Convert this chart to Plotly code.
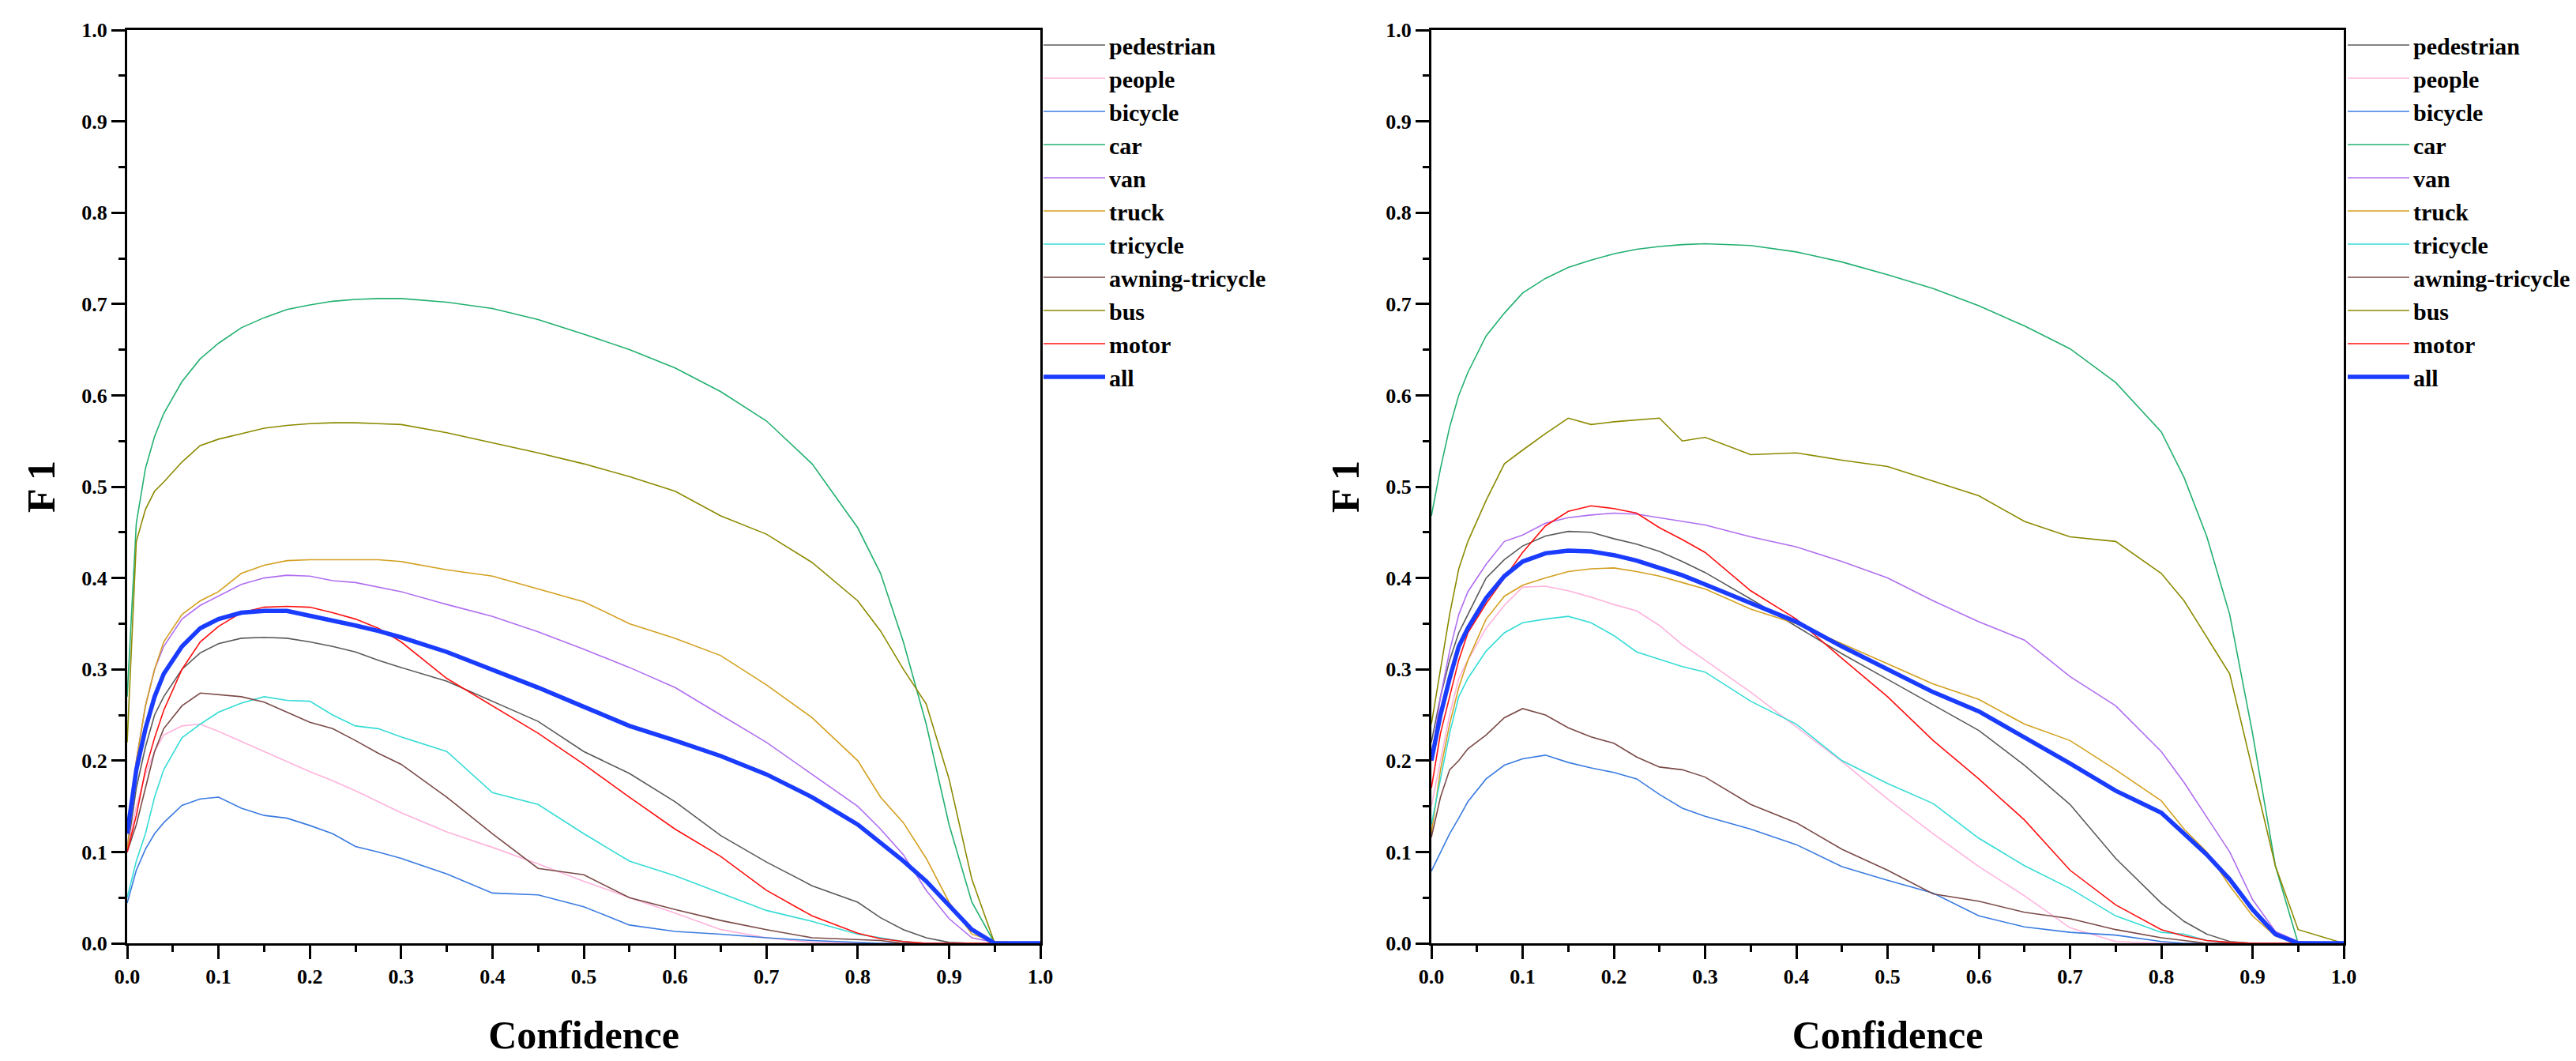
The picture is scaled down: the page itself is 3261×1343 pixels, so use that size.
import plotly.graph_objects as go

conf = [0, 0.01, 0.02, 0.03, 0.04, 0.06, 0.08, 0.1, 0.125, 0.15, 0.175, 0.2, 0.225, 0.25, 0.275,
        0.3, 0.35, 0.4, 0.45, 0.5, 0.55, 0.6, 0.65, 0.7, 0.75, 0.8, 0.825, 0.85, 0.875, 0.9,
        0.925, 0.95, 1.0]

names = ["pedestrian", "people", "bicycle", "car", "van", "truck", "tricycle",
         "awning-tricycle", "bus", "motor", "all"]
colors = ["#5a5a5a", "#ffb3dc", "#3a7be0", "#22b070", "#b06ef0", "#d4a020", "#35dcd6",
          "#7a4a48", "#8c8a00", "#ff1010", "#1a3cff"]

# ---- left panel ----
L_pedestrian = [0.10, 0.17, 0.215, 0.25, 0.27, 0.30, 0.318, 0.328, 0.334, 0.335, 0.334, 0.330, 0.325, 0.319, 0.310,
                0.302, 0.287, 0.265, 0.243, 0.210, 0.186, 0.155, 0.118, 0.089, 0.063, 0.045, 0.028, 0.015, 0.006, 0.001,
                0.0, 0.0, 0.0]
L_people = [0.10, 0.15, 0.185, 0.21, 0.228, 0.238, 0.240, 0.232, 0.221, 0.210, 0.199, 0.188, 0.178, 0.167, 0.155,
            0.143, 0.122, 0.105, 0.087, 0.068, 0.050, 0.033, 0.015, 0.006, 0.001, 0.0, 0.0, 0.0, 0.0, 0.0,
            0.0, 0.0, 0.0]
L_bicycle = [0.044, 0.08, 0.103, 0.12, 0.132, 0.151, 0.158, 0.160, 0.148, 0.140, 0.137, 0.129, 0.120, 0.106, 0.100,
             0.093, 0.076, 0.055, 0.053, 0.040, 0.020, 0.013, 0.010, 0.006, 0.003, 0.001, 0.0, 0.0, 0.0, 0.0,
             0.0, 0.0, 0.0]
L_car = [0.27, 0.46, 0.52, 0.555, 0.58, 0.615, 0.64, 0.657, 0.674, 0.685, 0.694, 0.699, 0.703, 0.705, 0.706,
         0.706, 0.702, 0.695, 0.683, 0.667, 0.650, 0.630, 0.604, 0.572, 0.525, 0.455, 0.405, 0.330, 0.240, 0.130,
         0.045, 0.0, 0.0]
L_van = [0.10, 0.20, 0.26, 0.30, 0.325, 0.355, 0.370, 0.380, 0.393, 0.400, 0.403, 0.402, 0.397, 0.395, 0.390,
         0.385, 0.371, 0.358, 0.341, 0.322, 0.302, 0.280, 0.250, 0.220, 0.185, 0.150, 0.125, 0.097, 0.058, 0.027,
         0.006, 0.001, 0.0]
L_truck = [0.10, 0.20, 0.26, 0.30, 0.33, 0.36, 0.375, 0.385, 0.405, 0.414, 0.419, 0.420, 0.420, 0.420, 0.420,
           0.418, 0.409, 0.402, 0.388, 0.374, 0.350, 0.334, 0.315, 0.283, 0.247, 0.200, 0.160, 0.132, 0.093, 0.045,
           0.010, 0.002, 0.0]
L_tricycle = [0.05, 0.09, 0.12, 0.16, 0.19, 0.225, 0.240, 0.253, 0.263, 0.270, 0.266, 0.265, 0.250, 0.238, 0.235,
              0.226, 0.210, 0.165, 0.152, 0.120, 0.090, 0.074, 0.055, 0.036, 0.024, 0.010, 0.006, 0.002, 0.0, 0.0,
              0.0, 0.0, 0.0]
L_awning = [0.10, 0.13, 0.17, 0.21, 0.235, 0.260, 0.274, 0.272, 0.270, 0.264, 0.253, 0.242, 0.235, 0.222, 0.208,
            0.196, 0.160, 0.120, 0.082, 0.075, 0.050, 0.037, 0.025, 0.015, 0.006, 0.004, 0.003, 0.0, 0.0, 0.0,
            0.0, 0.0, 0.0]
L_bus = [0.22, 0.44, 0.475, 0.495, 0.505, 0.527, 0.545, 0.552, 0.558, 0.564, 0.567, 0.569, 0.570, 0.570, 0.569,
         0.568, 0.559, 0.548, 0.537, 0.525, 0.511, 0.495, 0.468, 0.448, 0.417, 0.375, 0.342, 0.300, 0.262, 0.180,
         0.070, 0.0, 0.0]
L_motor = [0.10, 0.14, 0.19, 0.225, 0.255, 0.300, 0.330, 0.347, 0.362, 0.368, 0.369, 0.368, 0.362, 0.355, 0.345,
           0.330, 0.290, 0.260, 0.230, 0.196, 0.160, 0.125, 0.095, 0.058, 0.030, 0.011, 0.005, 0.002, 0.0, 0.0,
           0.0, 0.0, 0.0]
L_all = [0.12, 0.19, 0.235, 0.27, 0.295, 0.325, 0.345, 0.355, 0.362, 0.364, 0.364, 0.359, 0.354, 0.348, 0.342,
         0.335, 0.319, 0.300, 0.280, 0.259, 0.238, 0.222, 0.205, 0.185, 0.160, 0.130, 0.110, 0.090, 0.068, 0.042,
         0.015, 0.0, 0.0]

# ---- right panel ----
R_pedestrian = [0.22, 0.27, 0.31, 0.34, 0.36, 0.40, 0.42, 0.435, 0.446, 0.451, 0.450, 0.443, 0.437, 0.429, 0.418,
                0.406, 0.377, 0.347, 0.317, 0.289, 0.261, 0.233, 0.195, 0.152, 0.093, 0.044, 0.024, 0.010, 0.002, 0.0,
                0.0, 0.0, 0.0]
R_people = [0.15, 0.20, 0.25, 0.29, 0.31, 0.345, 0.370, 0.390, 0.391, 0.386, 0.379, 0.371, 0.364, 0.348, 0.327,
            0.310, 0.275, 0.237, 0.199, 0.158, 0.120, 0.084, 0.052, 0.017, 0.002, 0.0, 0.0, 0.0, 0.0, 0.0,
            0.0, 0.0, 0.0]
R_bicycle = [0.079, 0.10, 0.12, 0.137, 0.155, 0.180, 0.195, 0.202, 0.206, 0.198, 0.192, 0.187, 0.180, 0.163, 0.148,
             0.139, 0.125, 0.108, 0.084, 0.069, 0.055, 0.030, 0.018, 0.012, 0.009, 0.002, 0.0, 0.0, 0.0, 0.0,
             0.0, 0.0, 0.0]
R_car = [0.468, 0.52, 0.565, 0.60, 0.625, 0.665, 0.690, 0.712, 0.728, 0.740, 0.748, 0.755, 0.760, 0.763, 0.765,
         0.766, 0.764, 0.757, 0.746, 0.732, 0.717, 0.698, 0.676, 0.651, 0.614, 0.560, 0.510, 0.445, 0.360, 0.230,
         0.085, 0.0, 0.0]
R_van = [0.20, 0.27, 0.32, 0.36, 0.385, 0.415, 0.440, 0.447, 0.460, 0.466, 0.469, 0.471, 0.470, 0.466, 0.462,
         0.458, 0.445, 0.434, 0.418, 0.400, 0.375, 0.352, 0.332, 0.292, 0.260, 0.210, 0.176, 0.138, 0.100, 0.048,
         0.013, 0.002, 0.0]
R_truck = [0.12, 0.19, 0.24, 0.28, 0.31, 0.355, 0.380, 0.392, 0.400, 0.407, 0.410, 0.411, 0.407, 0.402, 0.395,
           0.388, 0.366, 0.350, 0.328, 0.306, 0.284, 0.267, 0.240, 0.222, 0.190, 0.156, 0.125, 0.100, 0.063, 0.030,
           0.008, 0.0, 0.0]
R_tricycle = [0.13, 0.18, 0.23, 0.27, 0.29, 0.32, 0.34, 0.351, 0.355, 0.358, 0.351, 0.337, 0.319, 0.311, 0.303,
              0.297, 0.265, 0.240, 0.200, 0.175, 0.153, 0.115, 0.085, 0.060, 0.030, 0.012, 0.010, 0.003, 0.001, 0.0,
              0.0, 0.0, 0.0]
R_awning = [0.116, 0.16, 0.19, 0.20, 0.213, 0.228, 0.247, 0.257, 0.250, 0.236, 0.226, 0.219, 0.204, 0.193, 0.190,
            0.182, 0.152, 0.132, 0.103, 0.080, 0.054, 0.046, 0.034, 0.027, 0.015, 0.006, 0.003, 0.0, 0.0, 0.0,
            0.0, 0.0, 0.0]
R_bus = [0.24, 0.30, 0.36, 0.41, 0.44, 0.485, 0.525, 0.540, 0.558, 0.575, 0.568, 0.571, 0.573, 0.575, 0.550,
         0.554, 0.535, 0.537, 0.529, 0.522, 0.506, 0.490, 0.462, 0.445, 0.440, 0.405, 0.375, 0.335, 0.295, 0.190,
         0.085, 0.015, 0.0]
R_motor = [0.17, 0.23, 0.27, 0.31, 0.34, 0.372, 0.400, 0.428, 0.457, 0.473, 0.479, 0.476, 0.471, 0.455, 0.442,
           0.428, 0.386, 0.355, 0.312, 0.270, 0.222, 0.180, 0.135, 0.080, 0.042, 0.015, 0.008, 0.003, 0.001, 0.0,
           0.0, 0.0, 0.0]
R_all = [0.20, 0.25, 0.29, 0.325, 0.345, 0.378, 0.402, 0.418, 0.427, 0.430, 0.429, 0.425, 0.419, 0.411, 0.403,
         0.393, 0.373, 0.352, 0.325, 0.300, 0.275, 0.254, 0.226, 0.197, 0.167, 0.143, 0.120, 0.097, 0.070, 0.037,
         0.010, 0.0, 0.0]

left = [L_pedestrian, L_people, L_bicycle, L_car, L_van, L_truck, L_tricycle, L_awning, L_bus, L_motor, L_all]
right = [R_pedestrian, R_people, R_bicycle, R_car, R_van, R_truck, R_tricycle, R_awning, R_bus, R_motor, R_all]

x_ticks = [0.0, 0.1, 0.2, 0.3, 0.4, 0.5, 0.6, 0.7, 0.8, 0.9, 1.0]
tick_text = ["0.0", "0.1", "0.2", "0.3", "0.4", "0.5", "0.6", "0.7", "0.8", "0.9", "1.0"]

fig = go.Figure()
for data, xa, ya, lg in [(left, "x", "y", "legend"), (right, "x2", "y2", "legend2")]:
    for name, col, ys in zip(names, colors, data):
        fig.add_trace(go.Scatter(
            x=conf, y=ys, mode="lines", name=name, xaxis=xa, yaxis=ya, legend=lg,
            line=dict(color=col, width=5.5 if name == "all" else 1.6),
        ))

tick_font = dict(family="Liberation Serif", size=26, color="black", weight="bold")
title_font = dict(family="Liberation Serif", size=50, color="black", weight="bold")
legend_font = dict(family="Liberation Serif", size=30, color="black", weight="bold")

def axis_common():
    return dict(range=[0, 1], tickvals=x_ticks, ticktext=tick_text, showline=True, linewidth=3,
                linecolor="black", mirror=True, ticks="outside", ticklen=17, tickwidth=3,
                tickcolor="black", showgrid=False, zeroline=False, tickfont=tick_font,
                automargin=False,
                minor=dict(dtick=0.05, ticks="outside", ticklen=8, tickwidth=3, tickcolor="black",
                           showgrid=False))

ydom = [1 - 1194 / 1343, 1 - 38 / 1343]
xdom1 = [161 / 3261, 1317 / 3261]
xdom2 = [1812 / 3261, 2967 / 3261]

fig.update_layout(
    width=3261, height=1343, margin=dict(l=0, r=0, t=0, b=0),
    paper_bgcolor="white", plot_bgcolor="white",
    xaxis=dict(domain=xdom1, anchor="y", title=dict(text="Confidence", font=title_font, standoff=42), **axis_common()),
    yaxis=dict(domain=ydom, anchor="x", title=dict(text="F 1", font=title_font, standoff=18), **axis_common()),
    xaxis2=dict(domain=xdom2, anchor="y2", title=dict(text="Confidence", font=title_font, standoff=42), **axis_common()),
    yaxis2=dict(domain=ydom, anchor="x2", title=dict(text="F 1", font=title_font, standoff=18), **axis_common()),
    legend=dict(x=1316 / 3261, y=1 - 31 / 1343, xanchor="left", yanchor="top", bgcolor="rgba(0,0,0,0)",
                font=legend_font, itemwidth=78, tracegroupgap=0),
    legend2=dict(x=2967 / 3261, y=1 - 31 / 1343, xanchor="left", yanchor="top", bgcolor="rgba(0,0,0,0)",
                 font=legend_font, itemwidth=78, tracegroupgap=0),
)

fig.write_html("out.html")
